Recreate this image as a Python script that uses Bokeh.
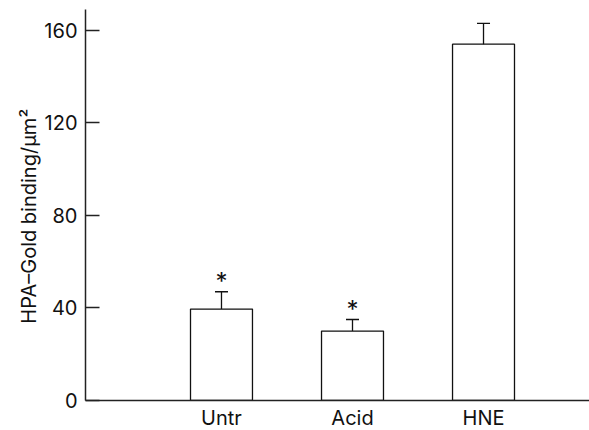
from bokeh.plotting import figure
from bokeh.models import Range1d, FixedTicker, Whisker, ColumnDataSource
from bokeh.core.properties import value
from bokeh.embed import file_html
from bokeh.resources import INLINE

categories = ["Untr", "Acid", "HNE"]
means = [39.5, 30.0, 154.0]
errors = [7.5, 5.0, 9.0]
marks = ["*", "*", ""]
y_ticks = [0, 40, 80, 120, 160]

xs = list(range(1, len(categories) + 1))
src = ColumnDataSource(dict(
    x=xs,
    top=means,
    upper=[m + e for m, e in zip(means, errors)],
    lower=[m - e for m, e in zip(means, errors)],
    mark=marks,
))

FONT = "Inter"

p = figure(
    output_backend="svg", toolbar_location=None,
    frame_width=504, frame_height=391,
    min_border_left=85, min_border_right=0, min_border_top=9, min_border_bottom=30,
    x_range=Range1d(-0.038, 3.809), y_range=Range1d(0, 169),
    background_fill_color="white", border_fill_color="white",
)
p.outline_line_color = None
p.grid.visible = False

p.vbar(x="x", top="top", bottom=0, width=0.473, source=src,
       fill_color="white", line_color="#111111", line_width=1.3)

w = Whisker(base="x", upper="upper", lower="lower", source=src,
            line_color="#111111", line_width=1.3)
w.upper_head.size = 13
w.lower_head.size = 13
w.upper_head.line_color = "#111111"
w.lower_head.line_color = "#111111"
w.upper_head.line_width = 1.3
w.lower_head.line_width = 1.3
p.add_layout(w)

p.text(x="x", y="upper", text="mark", source=src, text_align="center",
       text_baseline="middle", y_offset=-10, text_font=value(FONT),
       text_font_size="24px", text_color="#111111")

# Y axis
ya = p.yaxis[0]
ya.ticker = FixedTicker(ticks=y_ticks)
ya.axis_label = "HPA\u2013Gold binding/\u00b5m\u00b2" + "\u00a0" * 4
ya.axis_label_text_font = FONT
ya.axis_label_text_font_style = "normal"
ya.axis_label_text_font_size = "20px"
ya.axis_label_text_color = "#111111"
ya.axis_label_standoff = 0
ya.major_label_text_font = FONT
ya.major_label_text_font_size = "20px"
ya.major_label_text_color = "#111111"
ya.major_label_standoff = 8
ya.major_tick_in = 14
ya.major_tick_out = 0
ya.minor_tick_in = 0
ya.minor_tick_out = 0
ya.axis_line_color = "#222222"
ya.axis_line_width = 1.5
ya.major_tick_line_color = "#222222"
ya.major_tick_line_width = 1.3

# X axis
xa = p.xaxis[0]
xa.ticker = FixedTicker(ticks=xs)
xa.major_label_overrides = {x: c for x, c in zip(xs, categories)}
xa.major_label_text_font = FONT
xa.major_label_text_font_size = "20px"
xa.major_label_text_color = "#111111"
xa.major_label_standoff = 5
xa.major_tick_in = 0
xa.major_tick_out = 0
xa.minor_tick_in = 0
xa.minor_tick_out = 0
xa.axis_line_color = "#222222"
xa.axis_line_width = 1.5

open("out.html", "w").write(file_html(p, INLINE))
